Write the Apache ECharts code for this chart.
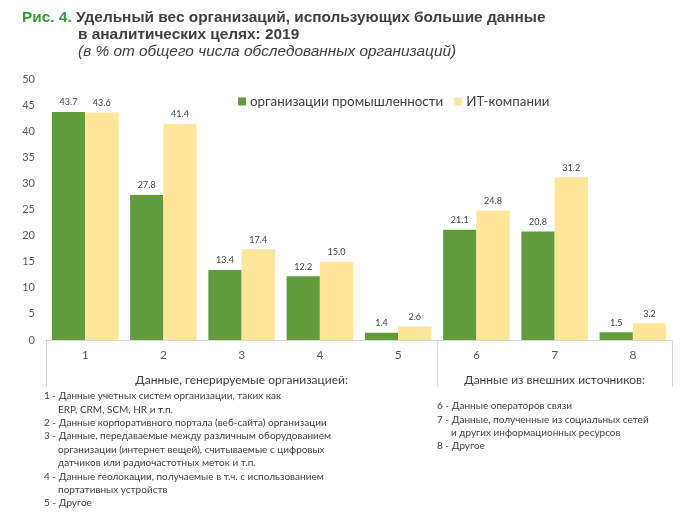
<!DOCTYPE html>
<html>
<head>
<meta charset="utf-8">
<script src="https://cdn.jsdelivr.net/npm/echarts@6/dist/echarts.min.js"></script>
<style>
  html, body { margin: 0; padding: 0; background: #fff; }
  #chart { width: 700px; height: 516px; }
</style>
</head>
<body>
<div id="chart"></div>
<script>
// ---- data ----
const categories = ['1', '2', '3', '4', '5', '6', '7', '8'];
const seriesNames = ['организации промышленности', 'ИТ-компании'];
const industry = [43.7, 27.8, 13.4, 12.2, 1.4, 21.1, 20.8, 1.5];
const itCompanies = [43.6, 41.4, 17.4, 15.0, 2.6, 24.8, 31.2, 3.2];
const yMin = 0, yMax = 50, yStep = 5;
const groupNames = ['Данные, генерируемые организацией:', 'Данные из внешних источников:'];
const groupSizes = [5, 3];
const titleLine1Prefix = 'Рис. 4.';
const titleLine1 = 'Удельный вес организаций, использующих большие данные';
const titleLine2 = 'в аналитических целях: 2019';
const titleLine3 = '(в % от общего числа обследованных организаций)';
const notesLeft = [
  ['1 - Данные учетных систем организации, таких как', 0],
  ['ERP, CRM, SCM, HR и т.п.', 1],
  ['2 - Данные корпоративного портала (веб-сайта) организации', 0],
  ['3 - Данные, передаваемые между различным оборудованием', 0],
  ['организации (интернет вещей), считываемые с цифровых', 1],
  ['датчиков или радиочастотных меток и т.п.', 1],
  ['4 - Данные геолокации, получаемые в т.ч. с использованием', 0],
  ['портативных устройств', 1],
  ['5 - Другое', 0]
];
const notesRight = [
  ['6 - Данные операторов связи', 0],
  ['7 - Данные, полученные из социальных сетей', 0],
  ['и других информационных ресурсов', 1],
  ['8 - Другое', 0]
];

// ---- derived ----
const groupBounds = [];
let acc = 0;
groupSizes.forEach(s => { groupBounds.push(acc); acc += s; });
const groupCenters = groupSizes.map((s, i) => groupBounds[i] + s / 2);

const FONT = 'Lato, "Noto Sans", sans-serif';
const TFONT = '"Liberation Sans", Arial, sans-serif';
const GREEN = '#629b3c';
const YELLOW = '#ffe699';
const TXT = '#404040';
const TSIZE = 15.4;

function noteGraphics(list, x0, y0) {
  return list.map((n, i) => ({
    type: 'text',
    left: x0 + (n[1] ? 14 : 0),
    top: y0 + i * 13.4,
    style: { text: n[0], font: '10px ' + FONT, fill: TXT }
  }));
}

const chart = echarts.init(document.getElementById('chart'), null, { renderer: 'canvas' });
chart.setOption({
  animation: false,
  backgroundColor: '#ffffff',
  title: [
    {
      left: 22, top: 10, padding: 0,
      text: '{g|' + titleLine1Prefix + '} ' + titleLine1,
      textStyle: {
        fontFamily: TFONT, fontSize: TSIZE, fontWeight: 'bold', color: TXT,
        rich: { g: { color: '#3a9a3a', fontFamily: TFONT, fontSize: TSIZE, fontWeight: 'bold' } }
      }
    },
    {
      left: 78, top: 27.5, padding: 0,
      text: titleLine2,
      textStyle: { fontFamily: TFONT, fontSize: TSIZE, fontWeight: 'bold', color: TXT }
    },
    {
      left: 78, top: 44, padding: 0,
      text: titleLine3,
      textStyle: { fontFamily: TFONT, fontSize: TSIZE, fontWeight: 'normal', fontStyle: 'italic', color: TXT }
    }
  ],
  legend: {
    left: 238, top: 95, padding: 0,
    itemWidth: 8, itemHeight: 8, itemGap: 11,
    icon: 'rect',
    data: seriesNames,
    textStyle: { fontFamily: FONT, fontSize: 13.4, color: TXT, padding: [0, 0, 0, -1] }
  },
  grid: { left: 46, right: 28, top: 79, bottom: 176, containLabel: false },
  xAxis: [
    {
      type: 'category',
      data: categories,
      position: 'bottom',
      axisLine: { show: true, lineStyle: { color: '#d9d9d9', width: 1 } },
      axisTick: {
        show: true, length: 47, lineStyle: { color: '#d9d9d9', width: 1 },
        interval: (idx) => groupBounds.indexOf(idx) >= 0
      },
      axisLabel: { fontFamily: FONT, fontSize: 12, color: '#595959', margin: 9 },
      splitLine: { show: false }
    },
    {
      type: 'value',
      position: 'bottom',
      min: 0, max: acc,
      axisLine: { show: false },
      axisTick: { show: false },
      splitLine: { show: false },
      axisLabel: {
        show: true,
        customValues: groupCenters,
        formatter: (v) => groupNames[groupCenters.indexOf(v)] || '',
        fontFamily: FONT, fontSize: 12, color: TXT, margin: 34
      }
    }
  ],
  yAxis: {
    type: 'value',
    min: yMin, max: yMax, interval: yStep,
    axisLine: { show: false },
    axisTick: { show: false },
    splitLine: { show: false },
    axisLabel: { fontFamily: FONT, fontSize: 11, color: '#595959', margin: 11 }
  },
  series: [
    {
      name: seriesNames[0], type: 'bar', xAxisIndex: 0,
      data: industry,
      barGap: '0%', barCategoryGap: '15%',
      itemStyle: { color: GREEN },
      label: { show: true, position: 'top', distance: 5, fontFamily: FONT, fontSize: 9, color: TXT, formatter: p => p.value.toFixed(1) }
    },
    {
      name: seriesNames[1], type: 'bar', xAxisIndex: 0,
      data: itCompanies,
      barGap: '0%', barCategoryGap: '15%',
      itemStyle: { color: YELLOW },
      label: { show: true, position: 'top', distance: 5, fontFamily: FONT, fontSize: 9, color: TXT, formatter: p => p.value.toFixed(1) }
    }
  ],
  graphic: [].concat(noteGraphics(notesLeft, 44, 391), noteGraphics(notesRight, 437, 401))
});
</script>
</body>
</html>
